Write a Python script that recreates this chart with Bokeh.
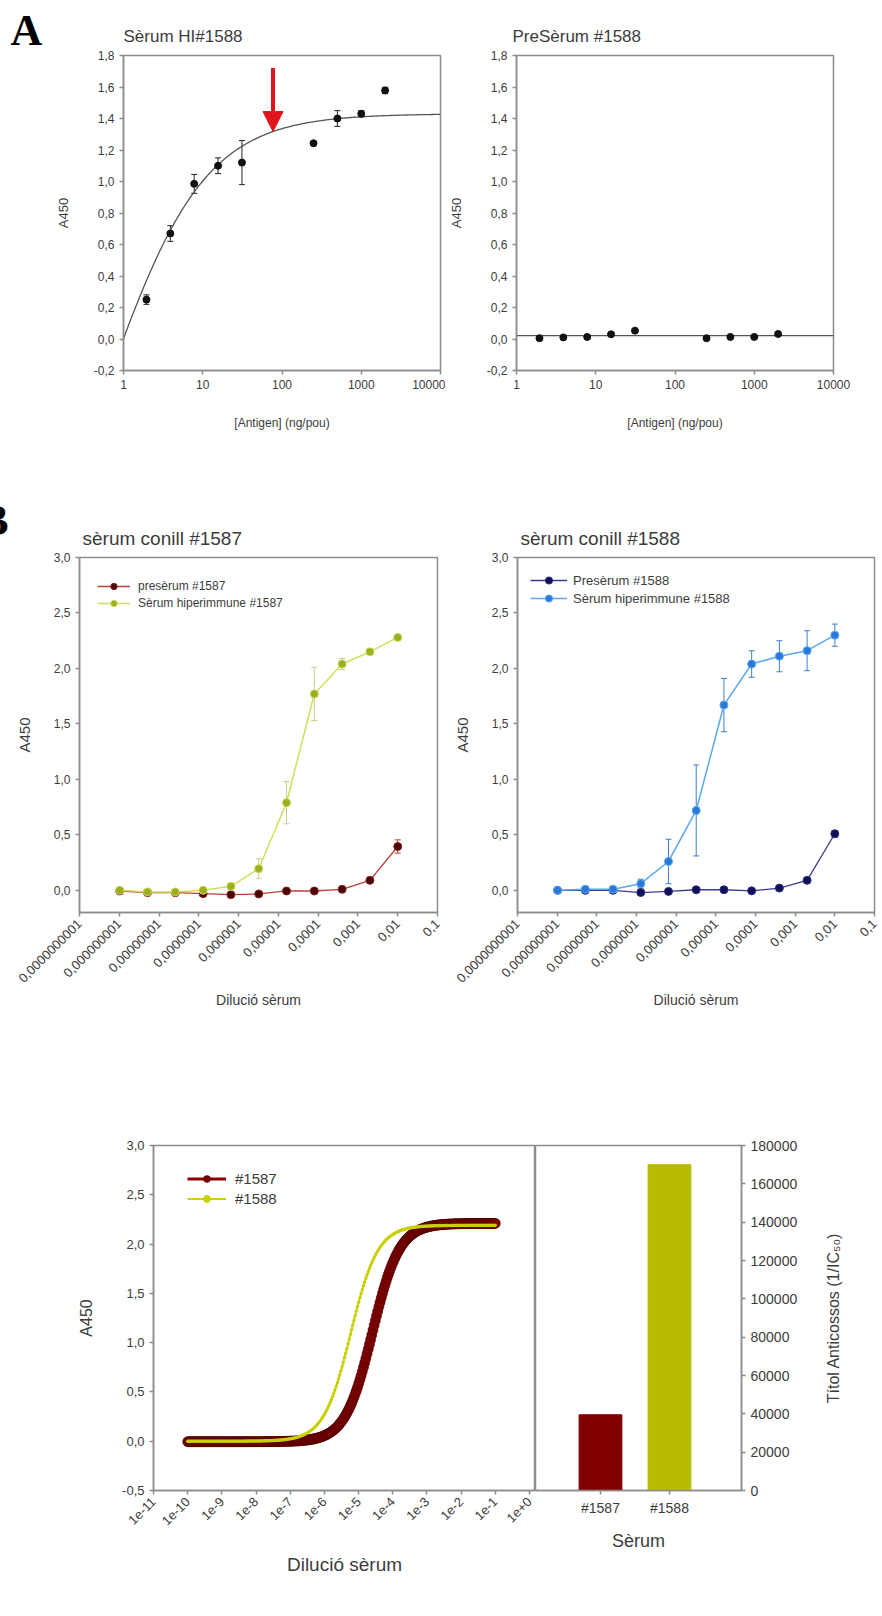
import math
import numpy as np
from bokeh.plotting import figure
from bokeh.layouts import column, row
from bokeh.models import (Range1d, FixedTicker, CustomJSTickFormatter, Whisker, TeeHead,
                          ColumnDataSource, Arrow, NormalHead, Legend, LegendItem, Title)
from bokeh.embed import file_html
from bokeh.resources import INLINE

# ---------------- data ----------------
# Panel A : ELISA vs antigen amount
antigen_ng = [1.95, 3.9, 7.8, 15.6, 31.25, 250, 500, 1000, 2000]
hi1588_a450 = [0.25, 0.67, 0.985, 1.10, 1.12, 1.243, 1.40, 1.43, 1.578]
hi1588_err = [0.03, 0.05, 0.06, 0.05, 0.14, 0.01, 0.05, 0.02, 0.02]
pre1588_a450 = [0.005, 0.01, 0.013, 0.03, 0.053, 0.005, 0.013, 0.013, 0.032]
pre1588_err = [0.004, 0.004, 0.005, 0.01, 0.006, 0.005, 0.005, 0.006, 0.008]
fitA_bottom, fitA_top, fitA_logec50, fitA_hill = -2.0, 1.43, -0.21, 0.70
pre_fit_level = 0.022
arrow_conc = 77
arrow_top = 1.72

A_y_ticks = [-0.2, 0.0, 0.2, 0.4, 0.6, 0.8, 1.0, 1.2, 1.4, 1.6, 1.8]
A_y_labels = ["-0,2", "0,0", "0,2", "0,4", "0,6", "0,8", "1,0", "1,2", "1,4", "1,6", "1,8"]
A_x_ticks = [1, 10, 100, 1000, 10000]
A_x_labels = ["1", "10", "100", "1000", "10000"]

# Panel B : serum dilution curves
dilution = [1.024e-9, 5.12e-9, 2.56e-8, 1.28e-7, 6.4e-7, 3.2e-6, 1.6e-5, 8e-5, 4e-4, 2e-3, 1e-2]
pre1587 = [-0.006, -0.021, -0.021, -0.03, -0.039, -0.033, -0.006, -0.006, 0.009, 0.09, 0.395]
pre1587_err = [0.01, 0.01, 0.01, 0.01, 0.01, 0.01, 0.01, 0.01, 0.01, 0.02, 0.06]
hi1587 = [0.0, -0.015, -0.015, 0.0, 0.036, 0.195, 0.79, 1.77, 2.04, 2.15, 2.28]
hi1587_err = [0.02, 0.01, 0.01, 0.01, 0.02, 0.09, 0.19, 0.24, 0.05, 0.02, 0.02]
pre1588 = [0.0, 0.0, 0.0, -0.02, -0.01, 0.005, 0.005, -0.005, 0.02, 0.09, 0.51]
pre1588_err_b = [0.01, 0.01, 0.01, 0.01, 0.01, 0.01, 0.01, 0.01, 0.01, 0.01, 0.03]
hi1588 = [0.0, 0.01, 0.01, 0.06, 0.26, 0.72, 1.67, 2.04, 2.11, 2.16, 2.30]
hi1588_err_b = [0.01, 0.01, 0.01, 0.04, 0.20, 0.41, 0.24, 0.12, 0.14, 0.18, 0.10]

B_y_ticks = [0.0, 0.5, 1.0, 1.5, 2.0, 2.5, 3.0]
B_y_labels = ["0,0", "0,5", "1,0", "1,5", "2,0", "2,5", "3,0"]
B_x_ticks = [1e-10, 1e-9, 1e-8, 1e-7, 1e-6, 1e-5, 1e-4, 1e-3, 1e-2, 1e-1]
B_x_labels = ["0,0000000001", "0,000000001", "0,00000001", "0,0000001", "0,000001",
              "0,00001", "0,0001", "0,001", "0,01", "0,1"]

# Panel C : fitted curves and titres
sera = ["#1587", "#1588"]
titer = [39500, 170000]
C_bottom = [-0.005, 0.0]
C_top = [2.21, 2.19]
C_hill = [1.1, 1.1]
C_y_ticks = [-0.5, 0.0, 0.5, 1.0, 1.5, 2.0, 2.5, 3.0]
C_y_labels = ["-0,5", "0,0", "0,5", "1,0", "1,5", "2,0", "2,5", "3,0"]
C_x_ticks = [1e-11, 1e-10, 1e-9, 1e-8, 1e-7, 1e-6, 1e-5, 1e-4, 1e-3, 1e-2, 1e-1, 1e0]
C_x_labels = ["1e-11", "1e-10", "1e-9", "1e-8", "1e-7", "1e-6", "1e-5", "1e-4",
              "1e-3", "1e-2", "1e-1", "1e+0"]
titer_ticks = [0, 20000, 40000, 60000, 80000, 100000, 120000, 140000, 160000, 180000]
titer_labels = ["0", "20000", "40000", "60000", "80000", "100000", "120000", "140000",
                "160000", "180000"]

# ---------------- style ----------------
FONT = "Liberation Sans"
GREY = "#8c8c8c"
TXT = "#3c3c3c"


def tick_fmt(vals, labels, uselog=False):
    code = """
    const b = uselog ? Math.log10(tick) : tick;
    for (let i = 0; i < vals.length; i++) {
        const a = uselog ? Math.log10(vals[i]) : vals[i];
        if (Math.abs(a - b) < 1e-6) return labels[i];
    }
    return "";
    """
    return CustomJSTickFormatter(args=dict(vals=vals, labels=labels, uselog=uselog), code=code)


def make_fig(w, h, bl, br, bt, bb, x_type, xr, yr, y_loc="left"):
    p = figure(width=w, height=h, x_axis_type=x_type, x_range=xr, y_range=yr,
               output_backend="svg", toolbar_location=None,
               min_border_left=bl, min_border_right=br, min_border_top=bt, min_border_bottom=bb,
               y_axis_location=y_loc)
    p.outline_line_color = GREY
    p.outline_line_width = 1.5
    p.grid.visible = False
    p.background_fill_color = "white"
    p.border_fill_color = "white"
    for ax in p.axis:
        ax.axis_line_color = GREY
        ax.axis_line_width = 1.5
        ax.major_tick_line_color = GREY
        ax.major_tick_line_width = 1.5
        ax.major_tick_out = 4
        ax.major_tick_in = 0
        ax.minor_tick_line_color = None
        ax.major_label_text_font = FONT
        ax.major_label_text_color = TXT
        ax.axis_label_text_font = FONT
        ax.axis_label_text_font_style = "normal"
        ax.axis_label_text_color = TXT
    return p


def set_axes(p, xt, xl, yt, yl, xlog, tick_px_x, tick_px_y, xlabel, ylabel, lab_px_x, lab_px_y,
             x_stand, y_stand, x_orient=None):
    p.xaxis.ticker = FixedTicker(ticks=xt)
    p.xaxis.formatter = tick_fmt(xt, xl, xlog)
    p.yaxis.ticker = FixedTicker(ticks=yt)
    p.yaxis.formatter = tick_fmt(yt, yl, False)
    p.xaxis.major_label_text_font_size = f"{tick_px_x}px"
    p.yaxis.major_label_text_font_size = f"{tick_px_y}px"
    p.xaxis.axis_label = xlabel
    p.yaxis.axis_label = ylabel
    p.xaxis.axis_label_text_font_size = f"{lab_px_x}px"
    p.yaxis.axis_label_text_font_size = f"{lab_px_y}px"
    p.xaxis.axis_label_standoff = x_stand
    p.yaxis.axis_label_standoff = y_stand
    if x_orient is not None:
        p.xaxis.major_label_orientation = x_orient


def set_title(p, text, size, offset, standoff):
    p.title.text = text
    p.title.align = "left"
    p.title.offset = offset
    p.title.standoff = standoff
    p.title.text_font = FONT
    p.title.text_font_size = f"{size}px"
    p.title.text_font_style = "normal"
    p.title.text_color = TXT


def blank_fig(w, h, bl, br, bt, bb):
    p = figure(width=w, height=h, x_range=Range1d(0, 1), y_range=Range1d(0, 1),
               output_backend="svg", toolbar_location=None, min_border_left=bl,
               min_border_right=br, min_border_bottom=bb, min_border_top=bt,
               x_axis_location=None, y_axis_location=None)
    p.outline_line_color = None
    p.grid.visible = False
    return p


def letter_fig(w, h, text, top, align, offset, standoff):
    p = blank_fig(w, h, 0, 0, top, 0)
    p.title.text = text
    p.title.align = align
    p.title.offset = offset
    p.title.standoff = standoff
    p.title.text_font = "Liberation Serif"
    p.title.text_font_size = "44px"
    p.title.text_font_style = "bold"
    p.title.text_color = "#000000"
    return p


def errbars(p, x, y, err, color, width=1.0, head=6):
    src = ColumnDataSource(dict(base=x, upper=[a + b for a, b in zip(y, err)],
                                lower=[a - b for a, b in zip(y, err)]))
    w = Whisker(source=src, base="base", upper="upper", lower="lower", dimension="height",
                line_color=color, line_width=width,
                upper_head=TeeHead(size=head, line_color=color, line_width=width),
                lower_head=TeeHead(size=head, line_color=color, line_width=width))
    p.add_layout(w)


def four_pl(xs, bottom, top, logec50, hill):
    return bottom + (top - bottom) / (1.0 + 10 ** (hill * (logec50 - np.log10(xs))))


def legend(items, loc, gh, gw, spacing, standoff, size):
    return Legend(items=items, location=loc, margin=0, padding=0, spacing=spacing,
                  glyph_height=gh, glyph_width=gw, label_standoff=standoff,
                  label_text_font=FONT, label_text_font_size=f"{size}px",
                  label_text_color=TXT, background_fill_alpha=0, border_line_color=None)


# ---------------- Panel A ----------------
A_H = 460
letA = letter_fig(50, A_H, "A", 55, "left", 10, 1)
pA1 = make_fig(395, A_H, 73, 5, 55, 90, "log", Range1d(A_x_ticks[0], A_x_ticks[-1]),
               Range1d(A_y_ticks[0], A_y_ticks[-1]))
set_axes(pA1, A_x_ticks, A_x_labels, A_y_ticks, A_y_labels, True, 12, 12,
         "[Antigen] (ng/pou)", "A450", 12, 13, 24, 20)
set_title(pA1, "Sèrum HI#1588", 17, 0, 19)
xs = np.logspace(math.log10(A_x_ticks[0]), math.log10(A_x_ticks[-1]), 300)
pA1.line(xs, four_pl(xs, fitA_bottom, fitA_top, fitA_logec50, fitA_hill), line_color="#555555",
         line_width=1.3)
errbars(pA1, antigen_ng, hi1588_a450, hi1588_err, "#222222")
pA1.scatter(antigen_ng, hi1588_a450, size=7, color="#111111")
tip = float(four_pl(np.array([arrow_conc]), fitA_bottom, fitA_top, fitA_logec50, fitA_hill)[0])
pA1.add_layout(Arrow(end=NormalHead(size=20, fill_color="#e3151c", line_color="#e3151c"),
                     x_start=arrow_conc, y_start=arrow_top, x_end=arrow_conc, y_end=tip,
                     line_color="#e3151c", line_width=4))

pA2 = make_fig(437, A_H, 71, 49, 55, 90, "log", Range1d(A_x_ticks[0], A_x_ticks[-1]),
               Range1d(A_y_ticks[0], A_y_ticks[-1]))
set_axes(pA2, A_x_ticks, A_x_labels, A_y_ticks, A_y_labels, True, 12, 12,
         "[Antigen] (ng/pou)", "A450", 12, 13, 24, 20)
set_title(pA2, "PreSèrum #1588", 17, -4, 19)
pA2.line([A_x_ticks[0], A_x_ticks[-1]], [pre_fit_level, pre_fit_level], line_color="#555555",
         line_width=1.3)
errbars(pA2, antigen_ng, pre1588_a450, pre1588_err, "#222222")
pA2.scatter(antigen_ng, pre1588_a450, size=7, color="#111111")

# ---------------- Panel B ----------------
B_H = 580
letB = letter_fig(12, B_H, "B", 97, "right", 4, 25)
pB1 = make_fig(435, B_H, 65, 10, 97, 128, "log", Range1d(B_x_ticks[0], B_x_ticks[-1]),
               Range1d(-0.2, B_y_ticks[-1]))
set_axes(pB1, B_x_ticks, B_x_labels, B_y_ticks, B_y_labels, True, 13, 12,
         "Dilució sèrum", "A450", 14, 15, 2, 18, math.pi / 4)
set_title(pB1, "sèrum conill #1587", 19, 3, 18)
l1 = pB1.line(dilution, pre1587, line_color="#b8403c", line_width=1.3)
errbars(pB1, dilution, pre1587, pre1587_err, "#c0403c")
s1 = pB1.scatter(dilution, pre1587, size=8, fill_color="#4a0606", line_color="#8a2020")
l2 = pB1.line(dilution, hi1587, line_color="#d2de5a", line_width=1.5)
errbars(pB1, dilution, hi1587, hi1587_err, "#c8cc80")
s2 = pB1.scatter(dilution, hi1587, size=8, fill_color="#9aae22", line_color="#c8d850")
pB1.add_layout(legend([LegendItem(label="presèrum #1587", renderers=[l1, s1]),
                       LegendItem(label="Sèrum hiperimmune #1587", renderers=[l2, s2])],
                      (18, 301), 16, 33, 1, 8, 12))

pB2 = make_fig(435, B_H, 70, 8, 97, 128, "log", Range1d(B_x_ticks[0], B_x_ticks[-1]),
               Range1d(-0.2, B_y_ticks[-1]))
set_axes(pB2, B_x_ticks, B_x_labels, B_y_ticks, B_y_labels, True, 13, 12,
         "Dilució sèrum", "A450", 14, 15, 2, 18, math.pi / 4)
set_title(pB2, "sèrum conill #1588", 19, 3, 18)
l3 = pB2.line(dilution, pre1588, line_color="#3c3c8c", line_width=1.3)
errbars(pB2, dilution, pre1588, pre1588_err_b, "#20205a")
s3 = pB2.scatter(dilution, pre1588, size=8, fill_color="#10105a", line_color="#30307a")
l4 = pB2.line(dilution, hi1588, line_color="#5aa8f0", line_width=1.5)
errbars(pB2, dilution, hi1588, hi1588_err_b, "#3a80d0")
s4 = pB2.scatter(dilution, hi1588, size=8, fill_color="#2a78d8", line_color="#5aa8f0")
pB2.add_layout(legend([LegendItem(label="Presèrum #1588", renderers=[l3, s3]),
                       LegendItem(label="Sèrum hiperimmune #1588", renderers=[l4, s4])],
                      (13, 305), 18, 37, 0, 6, 13))

# ---------------- Panel C ----------------
C_H = 570
pC1 = make_fig(535, C_H, 153, 0, 105, 120, "log", Range1d(C_x_ticks[0], 1.5),
               Range1d(C_y_ticks[0], C_y_ticks[-1]))
set_axes(pC1, C_x_ticks, C_x_labels, C_y_ticks, C_y_labels, True, 13, 13,
         "Dilució sèrum", "A450", 19, 16, 22, 24, math.pi / 4)
xc = np.logspace(math.log10(C_x_ticks[1]), math.log10(C_x_ticks[-2]), 260)
yc0 = four_pl(xc, C_bottom[0], C_top[0], math.log10(1.0 / titer[0]), C_hill[0])
yc1 = four_pl(xc, C_bottom[1], C_top[1], math.log10(1.0 / titer[1]), C_hill[1])
lc0 = pC1.line(xc, yc0, line_color="#8b0000", line_width=3)
sc0 = pC1.scatter(xc, yc0, size=10, fill_color="#7b0000", line_color="#4a0000", line_width=0.6)
lc1 = pC1.line(xc, yc1, line_color="#c8d200", line_width=2.0)
sc1 = pC1.scatter(xc, yc1, size=2.5, fill_color="#c8d200", line_color="#c8d200")
pC1.add_layout(legend([LegendItem(label=sera[0], renderers=[lc0, sc0]),
                       LegendItem(label=sera[1], renderers=[lc1, sc1])],
                      (34, 283), 17, 39, 3, 9, 15))

pC2 = make_fig(276, C_H, 0, 70, 105, 120, "linear", Range1d(0.058, 3.044),
               Range1d(titer_ticks[0], titer_ticks[-1]), y_loc="right")
set_axes(pC2, [1, 2], sera, titer_ticks, titer_labels, False, 14, 14,
         "Sèrum", "", 18, 16, 12, 10)
pC2.vbar(x=[1, 2], top=titer, width=0.62, color=["#800000", "#b8bc00"])

# right-hand axis title (reads bottom-to-top like the original)
pC3 = blank_fig(71, C_H, 30, 0, 105, 120)
pC3.add_layout(Title(text="Títol Anticossos (1/IC₅₀)", align="center", standoff=0,
                     text_font=FONT, text_font_size="16px", text_font_style="normal",
                     text_color=TXT), "left")

layout = column(row(letA, pA1, pA2), row(letB, pB1, pB2), row(pC1, pC2, pC3))
open("out.html", "w").write(file_html(layout, INLINE))
